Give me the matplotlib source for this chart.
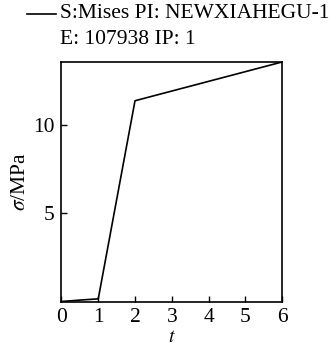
import matplotlib
matplotlib.use("Agg")
import matplotlib.pyplot as plt
from matplotlib.lines import Line2D

t = [0, 0.5, 1, 2, 6]
sigma = [0.0, 0.08, 0.15, 11.4, 13.6]
xticks = [0, 1, 2, 3, 4, 5, 6]
yticks = [5, 10]

plt.rcParams['font.family'] = ['Liberation Serif', 'DejaVu Serif']
plt.rcParams['mathtext.fontset'] = 'stix'

fig = plt.figure(figsize=(3.36, 3.47), dpi=100)
ax = fig.add_axes([61.5/336, 1 - 301.5/347, (282 - 61.5)/336, (301.5 - 62)/347])
ax.plot(t, sigma, color='black', lw=1.2)
ax.set_xlim(0, 6)
ax.set_ylim(0, 13.6)
ax.set_xticks(xticks)
ax.set_yticks(yticks)
ax.tick_params(direction='in', length=4, width=1, labelsize=15.5, pad=5)
for s in ax.spines.values():
    s.set_linewidth(1.2)
ax.set_xlabel('$t$', fontsize=14, labelpad=1)
ax.set_ylabel('$\\sigma$/MPa', fontsize=15.5, labelpad=2)

fig.add_artist(Line2D([27/336, 56/336], [1 - 14/347, 1 - 14/347], color='black', lw=1.2))
fig.text(60/336, 1 - 14/347, 'S:Mises PI: NEWXIAHEGU-1', fontsize=15.5, va='center', ha='left')
fig.text(60/336, 1 - 40/347, 'E: 107938 IP: 1', fontsize=15.5, va='center', ha='left')

fig.savefig('out.png', dpi=100)
